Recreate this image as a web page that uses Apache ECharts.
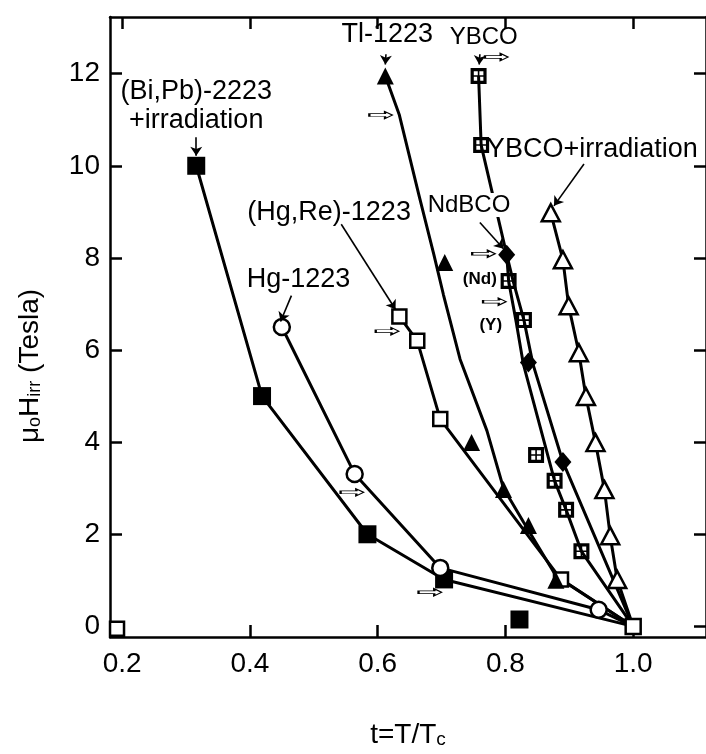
<!DOCTYPE html>
<html>
<head>
<meta charset="utf-8">
<script src="https://cdn.jsdelivr.net/npm/echarts@6/dist/echarts.min.js"></script>
<style>
  html, body { margin: 0; padding: 0; background: #fff; }
  #chart { width: 706px; height: 754px; }
</style>
</head>
<body>
<div id="chart"></div>
<script>
///////////////////////////////////////////////////
// Data
///////////////////////////////////////////////////

var xTicks = [0.2, 0.4, 0.6, 0.8, 1.0];
var yTicks = [0, 2, 4, 6, 8, 10, 12];

// every curve ends at t = 1, H = 0 (open square)
var endPoint = [[1.0, 0]];

// (Bi,Pb)-2223 + irradiation : filled squares
var biPb = [[0.316, 10], [0.419, 5], [0.584, 2], [0.704, 1.02]];
var biPbLoose = [[0.822, 0.15]];

// Hg-1223 : open circles
var hg = [[0.45, 6.5], [0.564, 3.31], [0.698, 1.27], [0.946, 0.36]];

// (Hg,Re)-1223 : open squares
var hgRe = [[0.634, 6.73], [0.662, 6.2], [0.698, 4.5], [0.887, 1.02]];
var hgReLoose = [[0.192, -0.05]];

// Tl-1223 : filled triangles, and the hand drawn curve
var tl = [[0.612, 11.95], [0.705, 7.9], [0.747, 3.99], [0.797, 2.97], [0.836, 2.19], [0.879, 1.0]];
var tlCurve = [[0.612, 11.95], [0.634, 11.1], [0.665, 9.34], [0.688, 8.07], [0.703, 7.2],
  [0.729, 5.8], [0.771, 4.25], [0.797, 3.0], [0.828, 2.27], [0.879, 1.1], [1.0, 0]];

// YBCO : crosshatched squares
var ybco = [[0.758, 11.95], [0.762, 10.45], [0.805, 7.5], [0.829, 6.65], [0.848, 3.72],
  [0.877, 3.16], [0.895, 2.53], [0.919, 1.63]];
var ybcoCurve = [[0.758, 11.95], [0.762, 10.45], [0.802, 8.07], [0.805, 7.5], [0.817, 6.6],
  [0.828, 5.7], [0.877, 3.16], [0.895, 2.53], [0.919, 1.63], [1.0, 0]];

// NdBCO : filled diamonds
var ndbco = [[0.802, 8.07], [0.836, 5.73], [0.89, 3.57]];
var ndbcoCurve = [[0.802, 8.07], [0.812, 7.5], [0.829, 6.65], [0.843, 5.7], [0.89, 3.57], [1.0, 0]];

// YBCO + irradiation : open triangles
var ybcoIrr = [[0.871, 8.98], [0.89, 7.96], [0.899, 6.96], [0.915, 5.94], [0.926, 4.99],
  [0.941, 3.99], [0.955, 2.97], [0.964, 1.97], [0.975, 1.02]];

// text labels [text, t, H]
var labels = [
  ['(Bi,Pb)-2223', 0.316, 11.61],
  ['+irradiation', 0.316, 10.98],
  ['Tl-1223', 0.615, 12.85],
  ['YBCO', 0.766, 12.78],
  ['YBCO+irradiation', 0.936, 10.36],
  ['NdBCO', 0.743, 9.15],
  ['(Nd)', 0.760, 7.54],
  ['(Y)', 0.777, 6.54],
  ['(Hg,Re)-1223', 0.524, 8.98],
  ['Hg-1223', 0.476, 7.54]
];

// leader arrows [t1, H1, t2, H2]
var leaders = [
  [0.316, 10.62, 0.316, 10.22],
  [0.613, 12.42, 0.612, 12.2],
  [0.760, 12.42, 0.759, 12.2],
  [0.923, 10.04, 0.876, 9.13],
  [0.760, 8.77, 0.797, 8.2],
  [0.543, 8.73, 0.628, 6.88],
  [0.465, 7.18, 0.448, 6.62]
];

// small hollow arrows [t, H]
var hollowArrows = [[0.605, 11.1], [0.786, 12.36], [0.615, 6.41], [0.766, 8.09],
  [0.783, 7.05], [0.560, 2.91], [0.682, 0.74]];

///////////////////////////////////////////////////
// Chart
///////////////////////////////////////////////////
var FONT = '"Liberation Sans", Arial, Helvetica, sans-serif';

var crossSquare = 'path://M0,0 L10,0 L10,10 L0,10 Z M2,2 L2,4.5 L4.5,4.5 L4.5,2 Z M5.5,2 L5.5,4.5 L8,4.5 L8,2 Z M2,5.5 L2,8 L4.5,8 L4.5,5.5 Z M5.5,5.5 L5.5,8 L8,8 L8,5.5 Z';
var hollowArrow = 'path://M0,3 L15,3 L15,0 L22,5 L15,10 L15,7 L0,7 Z';

function lineSeries(data) {
  return {
    type: 'line', data: data, showSymbol: false,
    lineStyle: { color: '#000', width: 3 }, z: 2, silent: true
  };
}

function markers(data, symbol, size, filled) {
  return {
    type: 'scatter', data: data, symbol: symbol, symbolSize: size, z: 3,
    itemStyle: filled
      ? { color: '#000', opacity: 1 }
      : { color: '#fff', borderColor: '#000', borderWidth: 2.5, opacity: 1 }
  };
}

var labelStyles = {
  'YBCO': { fontSize: 24 },
  'NdBCO': { fontSize: 24, backgroundColor: '#fff' },
  '(Nd)': { fontSize: 17, fontWeight: 'bold' },
  '(Y)': { fontSize: 17, fontWeight: 'bold' }
};

var axisCommon = {
  type: 'value',
  axisLine: { show: true, onZero: false, lineStyle: { color: '#000', width: 2.5 } },
  axisTick: { show: true, inside: true, length: 12, lineStyle: { color: '#000', width: 2.5 } },
  splitLine: { show: false }
};

var option = {
  animation: false,
  backgroundColor: '#fff',
  grid: { left: 110, top: 17, width: 602, height: 634 },
  xAxis: [
    Object.assign({}, axisCommon, {
      position: 'bottom', min: 0.181, max: 1.114,
      axisTick: Object.assign({}, axisCommon.axisTick, { customValues: xTicks }),
      axisLabel: {
        customValues: xTicks, formatter: function (v) { return v.toFixed(1); },
        fontFamily: FONT, fontSize: 28, color: '#000', margin: 13
      },
      name: '{a|t=T/T}{s|c}', nameLocation: 'middle', nameGap: 78,
      nameTextStyle: {
        rich: {
          a: { fontFamily: FONT, fontSize: 28, color: '#000', verticalAlign: 'bottom', lineHeight: 34 },
          s: { fontFamily: FONT, fontSize: 19, color: '#000', verticalAlign: 'bottom', lineHeight: 22 }
        }
      }
    }),
    Object.assign({}, axisCommon, {
      position: 'top', min: 0.181, max: 1.114,
      axisTick: Object.assign({}, axisCommon.axisTick, { customValues: xTicks }),
      axisLabel: { show: false }
    })
  ],
  yAxis: [
    Object.assign({}, axisCommon, {
      position: 'left', min: -0.23, max: 13.23,
      axisTick: Object.assign({}, axisCommon.axisTick, { customValues: yTicks }),
      axisLabel: { customValues: yTicks, fontFamily: FONT, fontSize: 28, color: '#000', margin: 10 },
      name: '{a|\u03bc}{s|o}{a|H}{s|irr}{a| (Tesla)}', nameLocation: 'middle', nameRotate: 90, nameGap: 66,
      nameTextStyle: {
        padding: [0, 78, 0, 0],
        rich: {
          a: { fontFamily: FONT, fontSize: 28, color: '#000', verticalAlign: 'bottom', lineHeight: 34 },
          s: { fontFamily: FONT, fontSize: 18, color: '#000', verticalAlign: 'bottom', lineHeight: 24 }
        }
      }
    }),
    Object.assign({}, axisCommon, {
      position: 'right', min: -0.23, max: 13.23,
      axisTick: Object.assign({}, axisCommon.axisTick, { customValues: yTicks }),
      axisLabel: { show: false }
    })
  ],
  series: [
    lineSeries(biPb.concat(endPoint)),
    lineSeries(hg.concat(endPoint)),
    lineSeries(hgRe.concat(endPoint)),
    lineSeries(tlCurve),
    lineSeries(ybcoCurve),
    lineSeries(ndbcoCurve),
    lineSeries(ybcoIrr.concat(endPoint)),

    markers(biPb.concat(biPbLoose), 'rect', 18, true),
    markers(hg, 'circle', 16, false),
    markers(hgRe.concat(hgReLoose), 'rect', 14, false),
    markers(tl, 'triangle', 17, true),
    markers(ybco, crossSquare, 16, true),
    markers(ndbco, 'diamond', [17, 20], true),
    markers(ybcoIrr, 'triangle', [18, 17], false),
    markers(endPoint, 'rect', 15, false),
    {
      type: 'scatter', data: hollowArrows, symbol: hollowArrow, symbolSize: [23, 7], z: 4,
      itemStyle: { color: '#fff', borderColor: '#000', borderWidth: 1.3, opacity: 1 }
    },
    {
      type: 'scatter', symbolSize: 0, z: 5, silent: true,
      itemStyle: { opacity: 1 },
      data: labels.map(function (l) {
        return {
          value: [l[1], l[2]], name: l[0],
          label: Object.assign({ show: true }, labelStyles[l[0]] || {})
        };
      }),
      label: {
        show: true, position: 'inside', formatter: '{b}',
        fontFamily: FONT, fontSize: 27, color: '#000'
      },
      markLine: {
        silent: true, symbol: ['none', 'arrow'], symbolSize: 9,
        label: { show: false },
        lineStyle: { color: '#000', width: 1.6, type: 'solid', opacity: 1 },
        data: leaders.map(function (l) {
          return [{ coord: [l[0], l[1]] }, { coord: [l[2], l[3]] }];
        })
      }
    }
  ]
};

var myChart = echarts.init(document.getElementById('chart'), null, { renderer: 'canvas' });
myChart.setOption(option);
</script>
</body>
</html>
